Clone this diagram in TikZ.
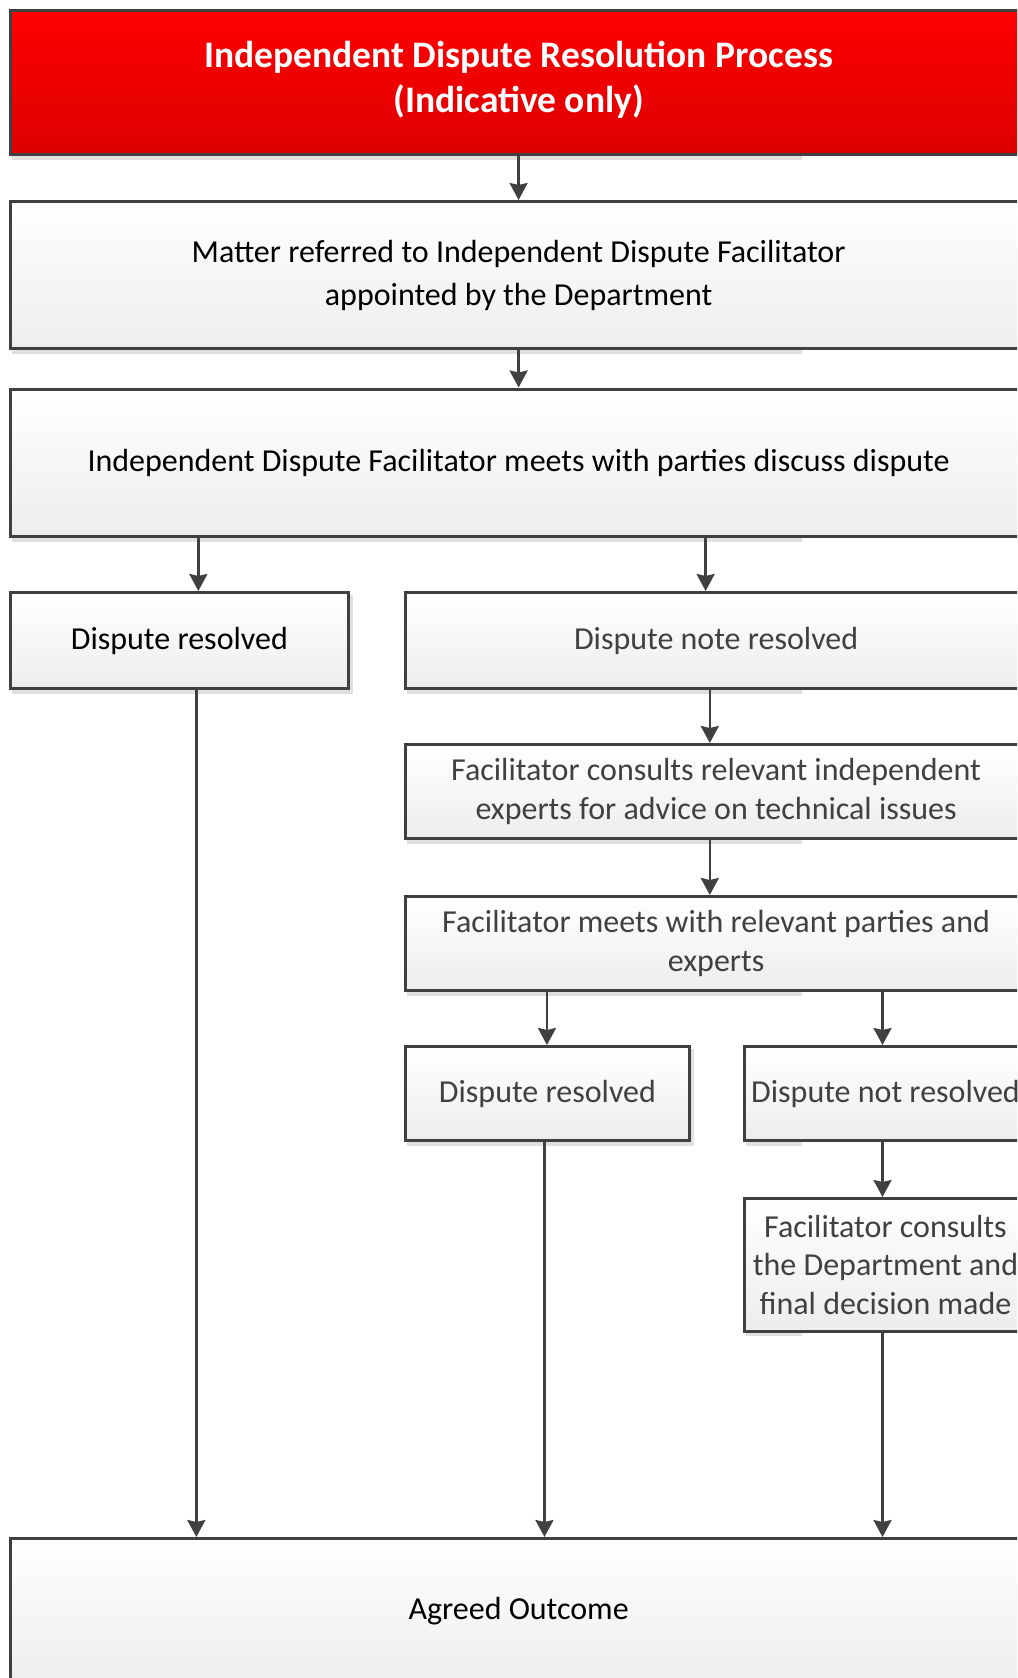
\documentclass[tikz,border=0pt]{standalone}
\usepackage{fontspec}
\setmainfont{Carlito}
\usetikzlibrary{arrows.meta,backgrounds}
\definecolor{edge}{HTML}{404040}
\definecolor{txtgray}{HTML}{404040}
\definecolor{shad}{HTML}{E0E0E0}
\definecolor{redtop}{HTML}{FF0000}
\definecolor{redbot}{HTML}{DD0000}
\tikzset{
  box/.style={draw=edge, line width=3pt, rectangle, anchor=north west,
    top color=white, bottom color=black!7, align=center, inner sep=0pt,
    font=\fontsize{32}{38.5}\selectfont, text=black},
  widespace/.style={font=\fontsize{32}{43}\selectfont},
  graytext/.style={text=txtgray},
  titlebox/.style={box, top color=redtop, bottom color=redbot, text=white,
    font=\fontsize{37.5}{45}\selectfont\bfseries},
  conn/.style={draw=edge, line width=2.6pt, -{Stealth[length=17pt,width=18pt,inset=2pt]}},
}
\begin{document}
\begin{tikzpicture}[x=1pt,y=-1pt]
\clip (0,0) rectangle (1017,1678);
% nodes
\node[titlebox, minimum width=1017pt, minimum height=144.5pt] (title) at (8.6,8.6)
  {Independent Dispute Resolution Process\\(Indicative only)\\[-34pt]};
\node[box, widespace, minimum width=1017pt, minimum height=147pt] (refer) at (8.6,200)
  {Matter referred to Independent Dispute Facilitator\\appointed by the Department};
\node[box, minimum width=1017pt, minimum height=147.5pt] (meet) at (8.6,387.5)
  {Independent Dispute Facilitator meets with parties discuss dispute};
\node[box, minimum width=338.5pt, minimum height=96pt] (dr1) at (8.6,591)
  {Dispute resolved};
\node[box, graytext, minimum width=622pt, minimum height=96pt] (dnr1) at (403.6,591)
  {Dispute note resolved};
\node[box, graytext, minimum width=622pt, minimum height=94pt] (cons) at (403.6,743)
  {Facilitator consults relevant independent\\experts for advice on technical issues};
\node[box, graytext, minimum width=622pt, minimum height=94pt] (fmeet) at (403.6,895)
  {Facilitator meets with relevant parties and\\experts};
\node[box, graytext, minimum width=284.7pt, minimum height=94pt] (dr2) at (403.6,1045)
  {Dispute resolved};
\node[box, graytext, minimum width=282pt, minimum height=94pt] (dnr2) at (743,1045)
  {Dispute not resolved};
\node[box, graytext, minimum width=282pt, minimum height=132.5pt] (final) at (743,1197)
  {Facilitator consults\\the Department and\\final decision made};
\node[box, minimum width=1017pt, minimum height=146pt] (agreed) at (8.6,1537)
  {Agreed Outcome};
% background and shadows
\begin{scope}[on background layer]
\fill[white] (0,0) rectangle (1017,1678);
\clip (0,0) rectangle (802,1678);
\foreach \n in {title,refer,meet,dr1,dnr1,cons,fmeet,dr2,dnr2,final}{
  \fill[shad] ([shift={(3pt,-3.5pt)}]\n.south west) rectangle ([shift={(3pt,-3.5pt)}]\n.north east);
}
\end{scope}
% connectors
\draw[conn] (title.south -| refer.north) -- (refer.north);
\draw[conn] (refer.south) -- (meet.north);
\draw[conn] ([xshift=19pt]meet.south -| dr1.north) coordinate (m1) -- (m1 |- dr1.north);
\draw[conn] ([xshift=-10.5pt]meet.south -| dnr1.north) coordinate (m2) -- (m2 |- dnr1.north);
\draw[conn] ([xshift=-6.3pt]dnr1.south) coordinate (c1) -- (c1 |- cons.north);
\draw[conn] ([xshift=-6.3pt]cons.south) coordinate (c2) -- (c2 |- fmeet.north);
\draw[conn] ([xshift=-0.5pt]fmeet.south -| dr2.north) coordinate (c5) -- (c5 |- dr2.north);
\draw[conn] ([xshift=-3pt]fmeet.south -| dnr2.north) coordinate (c3) -- (c3 |- dnr2.north);
\draw[conn] ([xshift=-3pt]dnr2.south) coordinate (c4) -- (c4 |- final.north);
\draw[conn] ([xshift=17pt]dr1.south) coordinate (d1) -- (d1 |- agreed.north);
\draw[conn] ([xshift=-3pt]dr2.south) coordinate (d2) -- (d2 |- agreed.north);
\draw[conn] ([xshift=-3pt]final.south) coordinate (d3) -- (d3 |- agreed.north);
\end{tikzpicture}
\end{document}
